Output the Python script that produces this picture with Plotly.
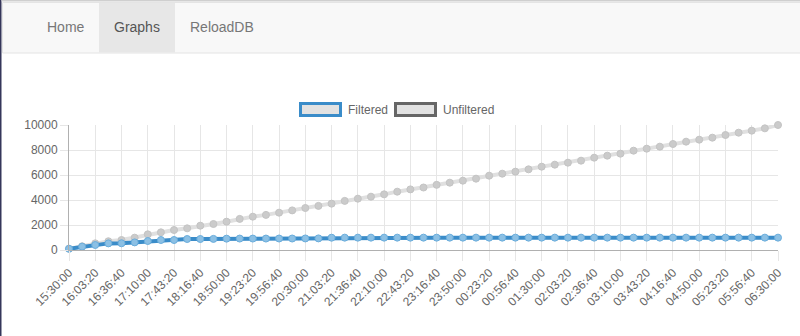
import plotly.graph_objects as go

# ---- data ----
times = [
    "15:30:00", "15:46:40", "16:03:20", "16:20:00", "16:36:40", "16:53:20", "17:10:00", "17:26:40",
    "17:43:20", "18:00:00", "18:16:40", "18:33:20", "18:50:00", "19:06:40", "19:23:20", "19:40:00",
    "19:56:40", "20:13:20", "20:30:00", "20:46:40", "21:03:20", "21:20:00", "21:36:40", "21:53:20",
    "22:10:00", "22:26:40", "22:43:20", "23:00:00", "23:16:40", "23:33:20", "23:50:00", "00:06:40",
    "00:23:20", "00:40:00", "00:56:40", "01:13:20", "01:30:00", "01:46:40", "02:03:20", "02:20:00",
    "02:36:40", "02:53:20", "03:10:00", "03:26:40", "03:43:20", "04:00:00", "04:16:40", "04:33:20",
    "04:50:00", "05:06:40", "05:23:20", "05:40:00", "05:56:40", "06:13:20", "06:30:00",
]
tick_labels = times[::2]

filtered = [
    100, 270, 400, 530, 540, 610, 720, 800, 800, 880,
    880, 890, 910, 915, 915, 915, 920, 920, 925, 930,
    985, 990, 990, 990, 990, 990, 990, 990, 990, 990,
    990, 990, 990, 990, 990, 990, 990, 990, 990, 990,
    990, 990, 990, 990, 990, 990, 990, 990, 990, 990,
    990, 990, 990, 990, 990,
]
unfiltered = [
    100, 300, 533, 700, 800, 987, 1253, 1413, 1600, 1733,
    1947, 2080, 2267, 2490, 2667, 2810, 2987, 3170, 3360, 3530,
    3707, 3930, 4107, 4267, 4453, 4667, 4850, 5000, 5213, 5387,
    5547, 5707, 5947, 6107, 6267, 6453, 6667, 6827, 6987, 7147,
    7387, 7547, 7707, 7947, 8107, 8267, 8480, 8667, 8827, 8987,
    9200, 9387, 9547, 9733, 10000,
]
series_names = ["Filtered", "Unfiltered"]
nav_items = ["Home", "Graphs", "ReloadDB"]

W, H = 800, 336
def px(x):
    return x / W
def py(y):
    return 1 - y / H

FONT = "Liberation Sans, Helvetica, Arial, sans-serif"

fig = go.Figure()
fig.add_trace(go.Scatter(
    x=times, y=unfiltered, name=series_names[1], mode="lines+markers", cliponaxis=False,
    line=dict(color="#e0e0e0", width=4),
    marker=dict(size=7, color="#cbcbcb", line=dict(color="#c4c4c4", width=1)),
))
fig.add_trace(go.Scatter(
    x=times, y=filtered, name=series_names[0], mode="lines+markers", cliponaxis=False,
    line=dict(color="#3a8cc9", width=4),
    marker=dict(size=7, color="#8cc0e4", line=dict(color="#6aaddc", width=1)),
))

shapes = []
# page borders
shapes.append(dict(type="rect", xref="paper", yref="paper", x0=0, x1=px(1.5), y0=0, y1=1,
                   line=dict(width=0), fillcolor="#35365a", layer="above"))
shapes.append(dict(type="rect", xref="paper", yref="paper", x0=px(1.5), x1=1, y0=py(1.5), y1=1,
                   line=dict(width=0), fillcolor="#cfcfcf"))
# navbar
shapes.append(dict(type="rect", xref="paper", yref="paper", x0=px(2.5), x1=px(805), y0=py(53), y1=py(2.5),
                   line=dict(color="#e4e4e4", width=1), fillcolor="#f8f8f8"))
shapes.append(dict(type="rect", xref="paper", yref="paper", x0=px(99), x1=px(175), y0=py(52.5), y1=py(3),
                   line=dict(width=0), fillcolor="#e7e7e7"))
# legend boxes
shapes.append(dict(type="rect", xref="paper", yref="paper", x0=px(300.5), x1=px(340.5), y0=py(115.5), y1=py(103.5),
                   line=dict(color="#3a8cc9", width=3), fillcolor="#e2e2e2"))
shapes.append(dict(type="rect", xref="paper", yref="paper", x0=px(395.5), x1=px(435.5), y0=py(115.5), y1=py(103.5),
                   line=dict(color="#666666", width=3), fillcolor="#e2e2e2"))

annotations = []
nav_x = [65.5, 137, 222]
nav_col = ["#777777", "#555555", "#777777"]
for name, x, c in zip(nav_items, nav_x, nav_col):
    annotations.append(dict(text=name, x=px(x), y=py(27), xref="paper", yref="paper",
                            showarrow=False, xanchor="center", yanchor="middle",
                            font=dict(family=FONT, size=14, color=c)))
annotations.append(dict(text=series_names[0], x=px(346), y=py(109.5), xref="paper", yref="paper",
                        showarrow=False, xanchor="left", yanchor="middle",
                        font=dict(family=FONT, size=12, color="#666666")))
annotations.append(dict(text=series_names[1], x=px(441), y=py(109.5), xref="paper", yref="paper",
                        showarrow=False, xanchor="left", yanchor="middle",
                        font=dict(family=FONT, size=12, color="#666666")))

fig.update_layout(
    width=W, height=H,
    margin=dict(l=0, r=0, t=0, b=0),
    paper_bgcolor="white", plot_bgcolor="white",
    showlegend=False,
    font=dict(family=FONT, size=12, color="#666666"),
    shapes=shapes, annotations=annotations,
    xaxis=dict(
        domain=[px(69), px(778)], type="category", range=[0, len(times) - 1],
        tickmode="array", tickvals=tick_labels, ticktext=tick_labels, tickangle=-45,
        showgrid=True, gridcolor="#e6e6e6", gridwidth=1,
        ticks="outside", ticklen=10, tickcolor="#e6e6e6",
        showline=True, linecolor="#b0b0b0", linewidth=1,
        zeroline=False, automargin=False, fixedrange=True,
        tickfont=dict(family=FONT, size=12, color="#666666"),
    ),
    yaxis=dict(
        domain=[py(250), py(125)], range=[0, 10000], dtick=2000, tickformat="d",
        showgrid=True, gridcolor="#e6e6e6", gridwidth=1,
        ticks="outside", ticklen=8, tickcolor="#e6e6e6",
        showline=True, linecolor="#b0b0b0", linewidth=1,
        zeroline=False, automargin=False, fixedrange=True,
        tickfont=dict(family=FONT, size=12, color="#666666"),
    ),
)

fig.write_html("out.html", config={"displayModeBar": False})
